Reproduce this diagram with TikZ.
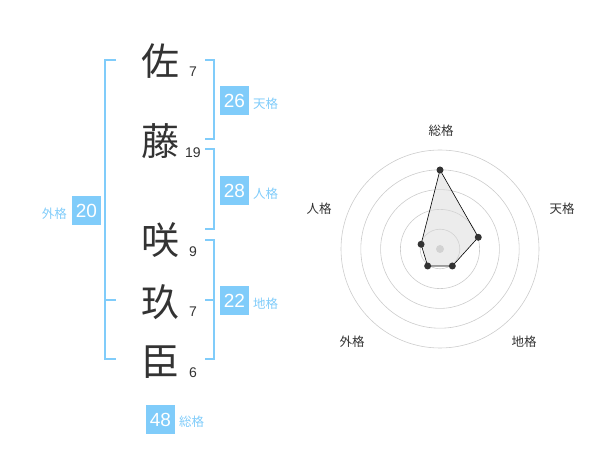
\documentclass[tikz,border=0pt]{standalone}
\usepackage{fontspec}
\setmainfont{Liberation Sans}
\newfontfamily\jp{Noto Sans CJK JP}
\definecolor{blu}{RGB}{128,204,250}
\definecolor{ink}{RGB}{51,51,51}
\definecolor{ring}{RGB}{204,204,204}
\begin{document}
\begin{tikzpicture}[x=1pt,y=-1pt,
  kanji/.style={font=\jp\fontsize{38}{38}\selectfont, text=ink, inner sep=0pt},
  strokes/.style={font=\fontsize{14}{14}\selectfont, text=ink, inner sep=0pt},
  valbox/.style={fill=blu, text=white, minimum width=29pt, minimum height=29pt, inner sep=0pt, font=\fontsize{19}{19}\selectfont},
  kaku/.style={font=\jp\fontsize{12.5}{12.5}\selectfont, text=blu, inner sep=0pt},
  bracket/.style={draw=blu, line width=2pt},
  axlabel/.style={font=\jp\fontsize{12.5}{12.5}\selectfont, text=ink, inner sep=0pt},
  dot/.style={circle, fill=ink, inner sep=0pt, minimum size=7pt}]
\useasboundingbox (0,0) rectangle (600,470);
% characters
\node[kanji] (c1) at (160,61) {佐};
\node[kanji] (c2) at (160,141) {藤};
\node[kanji] (c3) at (160,240) {咲};
\node[kanji] (c4) at (160,302) {玖};
\node[kanji] (c5) at (160,362) {臣};
\node[strokes] (n1) at (193,72) {7};
\node[strokes] (n2) at (193,153) {19};
\node[strokes] (n3) at (193,252) {9};
\node[strokes] (n4) at (193,312) {7};
\node[strokes] (n5) at (193,373) {6};
% brackets
\coordinate (la) at (116,60); \coordinate (lb) at (105,60);
\coordinate (lc) at (105,359); \coordinate (ld) at (116,359);
\coordinate (lm) at (105,300); \coordinate (lm2) at (116,300);
\draw[bracket] (la) -- (lb) -- (lc) -- (ld);
\draw[bracket] (lm) -- (lm2);
\coordinate (t1) at (205,60); \coordinate (t2) at (214,60);
\coordinate (t3) at (214,139); \coordinate (t4) at (205,139);
\draw[bracket] (t1) -- (t2) -- (t3) -- (t4);
\coordinate (p1) at (205,149); \coordinate (p2) at (214,149);
\coordinate (p3) at (214,229); \coordinate (p4) at (205,229);
\draw[bracket] (p1) -- (p2) -- (p3) -- (p4);
\coordinate (e1) at (205,240); \coordinate (e2) at (214,240);
\coordinate (e3) at (214,359); \coordinate (e4) at (205,359);
\coordinate (em) at (214,300); \coordinate (em2) at (205,300);
\draw[bracket] (e1) -- (e2) -- (e3) -- (e4);
\draw[bracket] (em) -- (em2);
% values
\node[valbox] (v1) at (234.5,100.5) {26};
\node[kaku, anchor=west] (k1) at (253,104) {天格};
\node[valbox] (v2) at (234.5,190.5) {28};
\node[kaku, anchor=west] (k2) at (253,194) {人格};
\node[valbox] (v3) at (86.5,210.5) {20};
\node[kaku, anchor=east] (k3) at (67,214) {外格};
\node[valbox] (v4) at (234.5,300.5) {22};
\node[kaku, anchor=west] (k4) at (253,304) {地格};
\node[valbox] (v5) at (160.5,419.5) {48};
\node[kaku, anchor=west] (k5) at (179,422) {総格};
% radar
\begin{scope}[shift={(440,249)}, yscale=-1]
  \foreach \r in {19.8,39.6,59.4,79.2,99} \draw[ring, line width=0.6pt] (0,0) circle (\r);
  \fill[ring] (0,0) circle (4);
  \coordinate (s) at (90:79);
  \coordinate (t) at (17:40);
  \coordinate (g) at (-54:21);
  \coordinate (o) at (-126:21);
  \coordinate (h) at (166:19.5);
  \fill[black!15, opacity=0.5] (s) -- (t) -- (g) -- (o) -- (h) -- cycle;
  \draw[black, line width=0.6pt] (s) -- (t) -- (g) -- (o) -- (h) -- cycle;
  \foreach \q in {s,t,g,o,h} \node[dot] at (\q) {};
\end{scope}
\node[axlabel] (a1) at (441,131) {総格};
\node[axlabel] (a2) at (562,209) {天格};
\node[axlabel] (a3) at (524,342) {地格};
\node[axlabel] (a4) at (352,342) {外格};
\node[axlabel] (a5) at (319,209) {人格};
\end{tikzpicture}
\end{document}
